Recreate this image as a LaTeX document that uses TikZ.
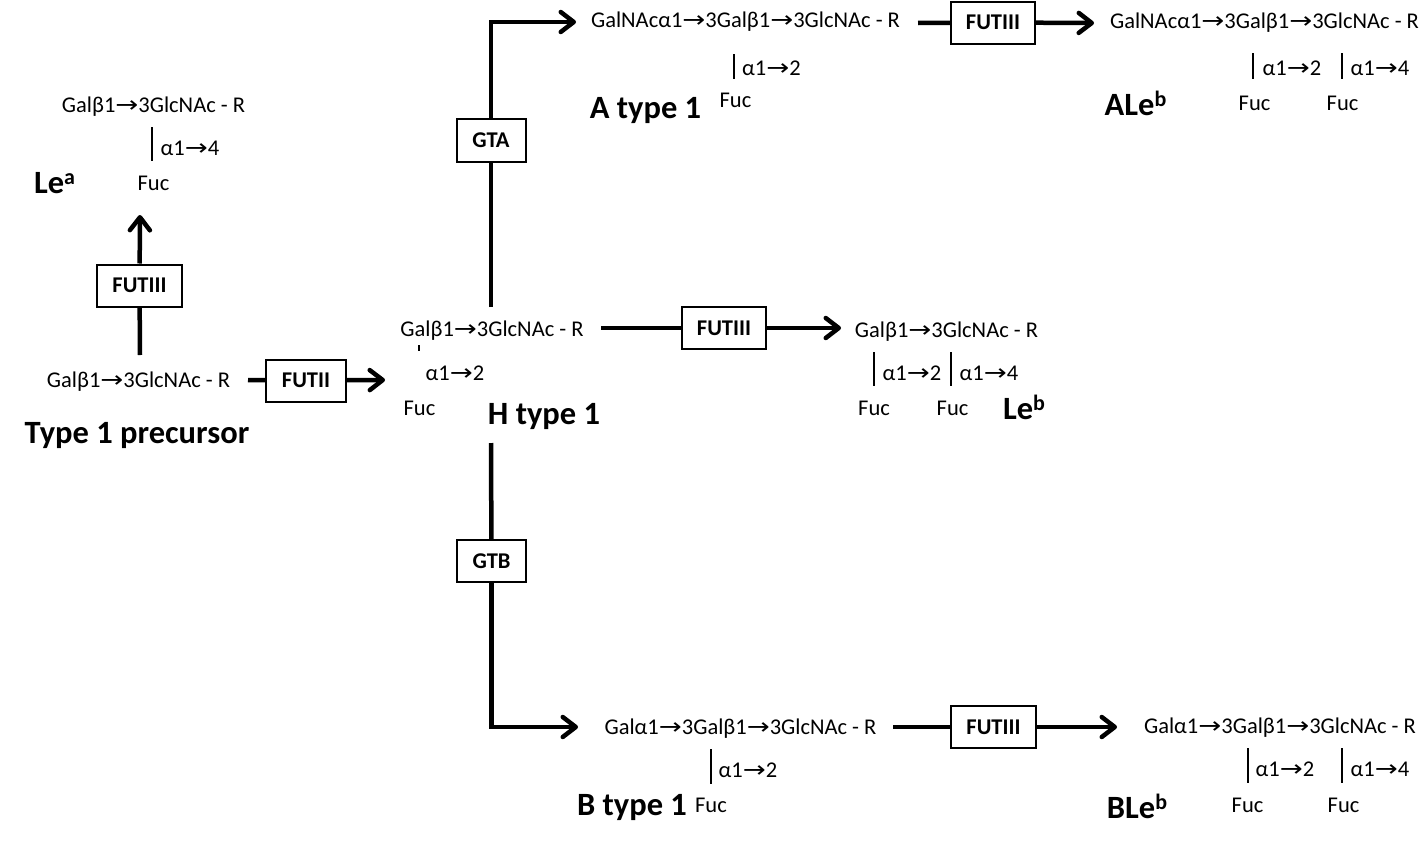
\documentclass[tikz,border=0pt]{standalone}
\usepackage{graphicx}
\usepackage{fontspec}
\setmainfont{Carlito}
\newfontfamily\arrfont{DejaVu Sans}
\usetikzlibrary{arrows.meta}
\newcommand\myarr{{\arrfont\scalebox{1.22}[1]{→}}}
\newcommand\smallfnt{\fontsize{22.5}{26}\selectfont}
\newcommand\bigfnt{\fontsize{32.5}{36}\selectfont\bfseries}
\newcommand\supx[1]{{\fontsize{22}{22}\selectfont\raisebox{9pt}{#1}}}
\begin{document}
\begin{tikzpicture}[x=1pt,y=-1pt,
  lbl/.style={inner sep=0pt, anchor=base, font=\smallfnt},
  big/.style={inner sep=0pt, anchor=base, font=\bigfnt},
  enz/.style={draw, line width=2pt, fill=white, font=\fontsize{22.5}{24}\selectfont\bfseries, inner sep=0pt, minimum height=42pt},
  conn/.style={line width=4.5pt},
  arr/.style={line width=4.5pt, -{Straight Barb[length=13pt,width=20pt,round]}},
  bar/.style={line width=2pt}]
\useasboundingbox (0,0) rectangle (1427,854);

% ---------- Le^a ----------
\node[lbl] (leaS) at (153.5,112) {Galβ1\myarr 3GlcNAc - R};
\draw[bar] (152,127) -- (152,161);
\node[lbl] (leaL) at (190,155) {α1\myarr 4};
\node[lbl] (leaF) at (153.5,190) {Fuc};
\node[big] (leaN) at (54.5,193) {Le\supx{a}};

% ---------- Type 1 precursor ----------
\node[lbl] (pre) at (138.5,387) {Galβ1\myarr 3GlcNAc - R};
\node[big] (preN) at (137,443) {Type 1 precursor};

% ---------- H type 1 ----------
\node[lbl] (hS) at (492,336) {Galβ1\myarr 3GlcNAc - R};
\draw[line width=1.5pt] (419,345) -- (419,351);
\node[lbl] (hL) at (455,380) {α1\myarr 2};
\node[lbl] (hF) at (419.5,415) {Fuc};
\node[big] (hN) at (544,424) {H type 1};

% ---------- Le^b ----------
\node[lbl] (lebS) at (946.5,337) {Galβ1\myarr 3GlcNAc - R};
\draw[bar] (874,352) -- (874,386);
\draw[bar] (951,352) -- (951,386);
\node[lbl] (lebL1) at (912,380) {α1\myarr 2};
\node[lbl] (lebL2) at (989,380) {α1\myarr 4};
\node[lbl] (lebF1) at (874,415) {Fuc};
\node[lbl] (lebF2) at (952.5,415) {Fuc};
\node[big] (lebN) at (1024,419) {Le\supx{b}};

% ---------- A type 1 ----------
\node[lbl] (aS) at (745.5,27) {GalNAcα1\myarr 3Galβ1\myarr 3GlcNAc - R};
\draw[bar] (734,54) -- (734,79);
\node[lbl] (aL) at (771.5,75) {α1\myarr 2};
\node[lbl] (aF) at (735.5,107) {Fuc};
\node[big] (aN) at (645.5,118) {A type 1};

% ---------- ALe^b ----------
\node[lbl] (alS) at (1264.5,28) {GalNAcα1\myarr 3Galβ1\myarr 3GlcNAc - R};
\draw[bar] (1253,53) -- (1253,79);
\draw[bar] (1342,53) -- (1342,79);
\node[lbl] (alL1) at (1292,75) {α1\myarr 2};
\node[lbl] (alL2) at (1380,75) {α1\myarr 4};
\node[lbl] (alF1) at (1254.5,110) {Fuc};
\node[lbl] (alF2) at (1342.5,110) {Fuc};
\node[big] (alN) at (1135.5,115) {ALe\supx{b}};

% ---------- B type 1 ----------
\node[lbl] (bS) at (740.5,734) {Galα1\myarr 3Galβ1\myarr 3GlcNAc - R};
\draw[bar] (711,749) -- (711,784);
\node[lbl] (bL) at (748,777) {α1\myarr 2};
\node[lbl] (bF) at (711,812) {Fuc};
\node[big] (bN) at (632,815) {B type 1};

% ---------- BLe^b ----------
\node[lbl] (blS) at (1280,733) {Galα1\myarr 3Galβ1\myarr 3GlcNAc - R};
\draw[bar] (1248,748) -- (1248,783);
\draw[bar] (1342,748) -- (1342,783);
\node[lbl] (blL1) at (1285,776) {α1\myarr 2};
\node[lbl] (blL2) at (1380,776) {α1\myarr 4};
\node[lbl] (blF1) at (1247.5,812) {Fuc};
\node[lbl] (blF2) at (1343.5,812) {Fuc};
\node[big] (blN) at (1137,818) {BLe\supx{b}};

% ---------- enzyme boxes ----------
\node[enz, minimum width=85pt] (e1) at (139.5,285.5) {FUTIII};
\node[enz, minimum width=80pt] (e2) at (306,380.5) {FUTII};
\node[enz, minimum width=69pt, minimum height=43pt] (gta) at (491,140) {GTA};
\node[enz, minimum width=84pt] (e3) at (724,328) {FUTIII};
\node[enz, minimum width=84pt] (e4) at (993,22.5) {FUTIII};
\node[enz, minimum width=69pt] (gtb) at (491.5,561) {GTB};
\node[enz, minimum width=85pt] (e5) at (993.5,727) {FUTIII};

% ---------- connector ends ----------
\coordinate (c1a) at (140,355);
\coordinate (c1b) at (140,215);
\coordinate (c2a) at (248,380);
\coordinate (c2b) at (385,380);
\coordinate (c3a) at (491,307);
\coordinate (c3b) at (576,22);
\coordinate (c4a) at (601,328);
\coordinate (c4b) at (841,328);
\coordinate (c5a) at (918,23);
\coordinate (c5b) at (1094,23);
\coordinate (c6a) at (491,443);
\coordinate (c6b) at (578,727);
\coordinate (c7a) at (893,727);
\coordinate (c7b) at (1117,727);

% ---------- connectors ----------
\draw[conn] (c1a) -- (e1);
\draw[arr] (e1) -- (c1b);
\draw[conn] (c2a) -- (e2);
\draw[arr] (e2) -- (c2b);
\draw[conn] (c3a) -- (gta);
\draw[arr] (gta) |- (c3b);
\draw[conn] (c4a) -- (e3);
\draw[arr] (e3) -- (c4b);
\draw[conn] (c5a) -- (e4);
\draw[arr] (e4) -- (c5b);
\draw[conn] (c6a) -- (gtb);
\draw[arr] (gtb) |- (c6b);
\draw[conn] (c7a) -- (e5);
\draw[arr] (e5) -- (c7b);
\end{tikzpicture}
\end{document}
